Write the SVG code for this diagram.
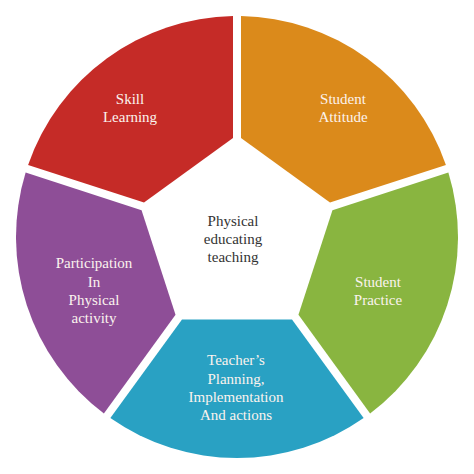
<svg xmlns="http://www.w3.org/2000/svg" xmlns:xlink="http://www.w3.org/1999/xlink" width="474" height="474" viewBox="0 0 474 474">
<style>
text{font-family:"Liberation Serif","DejaVu Serif",serif;font-size:15px;text-anchor:middle}
.w{fill:#fbf3ee}
.d{fill:#333333}
</style>
<defs>
<path id="seg" d="M82.5 -55 L181.11 -126.64 A221 221 0 0 1 181.11 126.64 L82.5 55 Z"/>
</defs>
<rect width="474" height="474" fill="#ffffff"/>
<g id="connectors"/>
<g id="skill-learning">
<use xlink:href="#seg" href="#seg" transform="translate(237 237) rotate(-126)" fill="#c52b27"/>
<text class="w" x="130" y="104">Skill</text>
<text class="w" x="130" y="122">Learning</text>
</g>
<g id="student-attitude">
<use xlink:href="#seg" href="#seg" transform="translate(237 237) rotate(-54)" fill="#db8a1b"/>
<text class="w" x="343" y="104">Student</text>
<text class="w" x="343" y="122">Attitude</text>
</g>
<g id="student-practice">
<use xlink:href="#seg" href="#seg" transform="translate(237 237) rotate(18)" fill="#89b540"/>
<text class="w" x="378" y="287">Student</text>
<text class="w" x="378" y="305">Practice</text>
</g>
<g id="teachers-planning">
<use xlink:href="#seg" href="#seg" transform="translate(237 237) rotate(90)" fill="#29a1c3"/>
<text class="w" x="236" y="365">Teacher’s</text>
<text class="w" x="236" y="383.5">Planning,</text>
<text class="w" x="236" y="402">Implementation</text>
<text class="w" x="236" y="420">And actions</text>
</g>
<g id="participation">
<use xlink:href="#seg" href="#seg" transform="translate(237 237) rotate(162)" fill="#8e4e97"/>
<text class="w" x="94" y="268">Participation</text>
<text class="w" x="94" y="286.5">In</text>
<text class="w" x="94" y="305">Physical</text>
<text class="w" x="94" y="323">activity</text>
</g>
<g id="center">
<text class="d" x="233" y="226">Physical</text>
<text class="d" x="233" y="244">educating</text>
<text class="d" x="233" y="262">teaching</text>
</g>
</svg>
